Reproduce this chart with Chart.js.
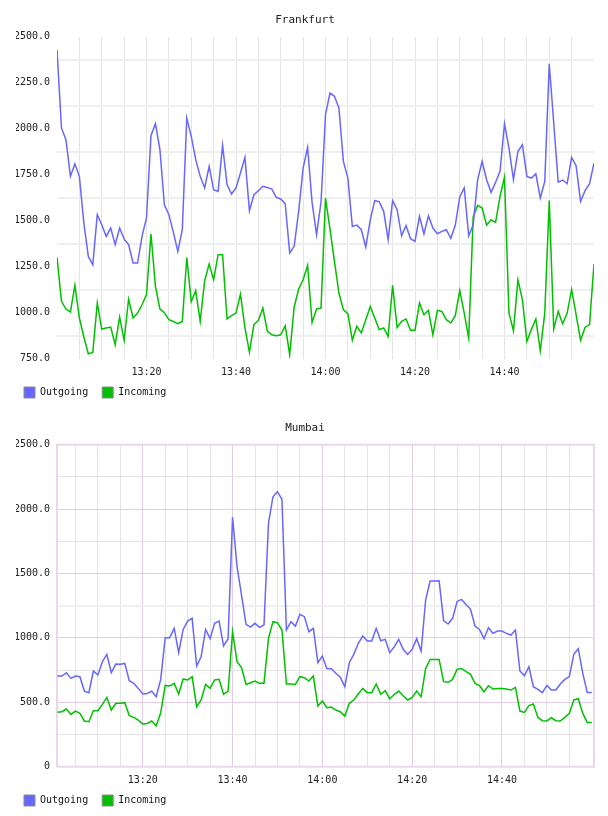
<!DOCTYPE html>
<html>
<head>
<meta charset="utf-8">
<title>Outgoing / Incoming</title>
<script src="https://cdn.jsdelivr.net/npm/chart.js@4.4.1/dist/chart.umd.min.js"></script>
<style>
  body { margin: 0; background: #fff; }
  canvas { display: block; }
</style>
</head>
<body>
<canvas id="frankfurt" width="608" height="408"></canvas>
<canvas id="mumbai" width="608" height="408"></canvas>
<script>
// helpers for HH:MM <-> minutes of the day
function toMinutes(t) {
  var p = t.split(':');
  return Number(p[0]) * 60 + Number(p[1]);
}
function fmt(m) {
  var mm = m % 60;
  return Math.floor(m / 60) + ':' + (mm < 10 ? '0' + mm : mm);
}
// one sample per minute
function timeRange(from, to) {
  var out = [];
  for (var m = toMinutes(from); m <= toMinutes(to); m++) out.push(fmt(m));
  return out;
}

// ---- data ----
const frankfurtTimes = timeRange('13:00', '15:00');
const frankfurtOutgoing = [
  2429, 2004, 1940, 1741, 1808, 1741, 1487, 1306, 1261, 1533, 1478, 1415, 1460, 1370, 1460, 1400,
  1370, 1270, 1270, 1415, 1515, 1962, 2027, 1886, 1587, 1533, 1438, 1333, 1451, 2058, 1958, 1832,
  1741, 1678, 1795, 1668, 1659, 1909, 1696, 1645, 1678, 1759, 1844, 1554, 1641, 1663, 1687, 1680,
  1672, 1627, 1618, 1592, 1324, 1361, 1551, 1786, 1899, 1600, 1424, 1600, 2076, 2194, 2176, 2112,
  1822, 1732, 1469, 1476, 1451, 1357, 1505, 1609, 1604, 1551, 1397, 1609, 1560, 1418, 1473, 1402,
  1388, 1524, 1428, 1527, 1460, 1429, 1442, 1451, 1404, 1475, 1629, 1678, 1418, 1478, 1723, 1822,
  1723, 1654, 1708, 1768, 2027, 1895, 1723, 1877, 1913, 1741, 1732, 1755, 1623, 1714, 2353, 2031,
  1710, 1721, 1701, 1844, 1799, 1605, 1663, 1701, 1813
];
const frankfurtIncoming = [
  1301, 1062, 1020, 1004, 1149, 971, 868, 777, 784, 1053, 911, 917, 922, 826, 976, 850,
  1074, 971, 998, 1043, 1098, 1428, 1143, 1020, 1000, 962, 952, 940, 952, 1300, 1060, 1120,
  953, 1174, 1264, 1179, 1315, 1315, 966, 984, 998, 1101, 917, 786, 935, 958, 1025, 900,
  880, 875, 880, 929, 772, 1031, 1129, 1179, 1257, 947, 1020, 1025, 1623, 1456, 1279, 1107,
  1016, 995, 850, 926, 890, 962, 1034, 971, 908, 917, 871, 1149, 920, 953, 966, 904,
  904, 1053, 989, 1013, 880, 1013, 1007, 962, 944, 984, 1120, 998, 862, 1520, 1583, 1569,
  1476, 1505, 1491, 1632, 1737, 998, 902, 1179, 1071, 844, 908, 966, 793, 998, 1609, 911,
  1007, 940, 998, 1125, 989, 850, 920, 935, 1264
];

const mumbaiTimes = timeRange('13:01', '15:00');
const mumbaiOutgoing = [
  704, 704, 730, 686, 704, 699, 587, 575, 743, 712, 815, 872, 730, 797, 795, 802,
  668, 647, 608, 564, 569, 587, 543, 678, 1002, 1002, 1074, 885, 1066, 1131, 1152, 782,
  854, 1066, 994, 1113, 1131, 937, 994, 1936, 1553, 1333, 1105, 1084, 1113, 1082, 1100, 1889,
  2096, 2135, 2076, 1061, 1126, 1092, 1183, 1165, 1048, 1074, 807, 859, 763, 761, 725, 694,
  621, 807, 872, 958, 1014, 976, 976, 1074, 978, 989, 885, 930, 989, 911, 872, 911,
  994, 898, 1294, 1442, 1442, 1444, 1134, 1108, 1152, 1281, 1299, 1260, 1222, 1092, 1066, 994,
  1079, 1035, 1053, 1053, 1035, 1022, 1061, 743, 707, 776, 621, 600, 575, 631, 595, 595,
  642, 678, 700, 872, 916, 725, 577, 577
];
const mumbaiIncoming = [
  422, 427, 448, 406, 432, 414, 355, 349, 435, 435, 484, 538, 440, 492, 492, 497,
  396, 383, 362, 331, 336, 355, 318, 419, 631, 626, 647, 564, 681, 673, 699, 466,
  518, 639, 608, 673, 678, 562, 587, 1048, 815, 769, 639, 652, 665, 647, 647, 996,
  1126, 1118, 1061, 642, 642, 639, 699, 691, 665, 704, 471, 510, 458, 463, 440, 427,
  393, 492, 518, 564, 608, 575, 575, 642, 562, 590, 528, 560, 587, 551, 518, 538,
  587, 543, 763, 833, 833, 833, 660, 655, 678, 756, 763, 738, 717, 647, 629, 582,
  629, 603, 608, 608, 603, 595, 616, 432, 422, 474, 487, 383, 357, 355, 380, 357,
  355, 383, 414, 518, 528, 414, 344, 344
];

const seriesNames = ['Outgoing', 'Incoming'];
const xTickLabels = ['13:20', '13:40', '14:00', '14:20', '14:40'];
const frankfurtYLabels = [750, 1000, 1250, 1500, 1750, 2000, 2250, 2500];
const mumbaiYLabels = [0, 500, 1000, 1500, 2000, 2500];

// ---- look ----
const MONO = "'DejaVu Sans Mono', monospace";
const BLUE = '#6767ff';
const GREEN = '#00c000';
const PINK = '#e4cbe4';

Chart.defaults.font.family = MONO;
Chart.defaults.color = '#222';

function points(times, values) {
  return times.map(function (t, i) { return { x: toMinutes(t), y: values[i] }; });
}

// pink frame round the plot (Mumbai only)
const frame = {
  id: 'frame',
  beforeDatasetsDraw: function (chart, args, opts) {
    if (!opts.color) return;
    const a = chart.chartArea, ctx = chart.ctx;
    ctx.save();
    ctx.strokeStyle = opts.color;
    ctx.lineWidth = 2;
    ctx.strokeRect(a.left, a.top, a.right - a.left, a.bottom - a.top);
    ctx.restore();
  }
};

function makeChart(id, cfg) {
  const xMin = toMinutes(cfg.xFrom) + cfg.xPad[0];
  const xMax = toMinutes(cfg.xTo) + cfg.xPad[1];
  return new Chart(document.getElementById(id), {
    type: 'line',
    data: {
      datasets: [
        // trailing space widens the gap between the two legend items
        { label: seriesNames[0] + ' ', data: points(cfg.times, cfg.outgoing), borderColor: BLUE, backgroundColor: BLUE },
        { label: seriesNames[1], data: points(cfg.times, cfg.incoming), borderColor: GREEN, backgroundColor: GREEN }
      ]
    },
    options: {
      responsive: false,
      animation: false,
      events: [],
      elements: {
        line: { borderWidth: 1.5, tension: 0, fill: false },
        point: { radius: 0 }
      },
      layout: { padding: { left: 16, right: 14, top: 0, bottom: 0 } },
      scales: {
        x: {
          type: 'linear',
          min: xMin,
          max: xMax,
          border: { display: false },
          afterBuildTicks: function (s) {
            const t = [];
            for (let v = Math.ceil(xMin / 5) * 5; v < xMax - 1; v += 5) if (v > xMin) t.push({ value: v });
            s.ticks = t;
          },
          afterFit: function (s) { s.height = 20.3; },
          grid: { drawTicks: false, lineWidth: 1, color: cfg.xGrid },
          ticks: {
            autoSkip: false, maxRotation: 0, padding: 8,
            font: { size: 10 },
            callback: function (v) { return xTickLabels.indexOf(fmt(v)) >= 0 ? fmt(v) : ''; }
          }
        },
        y: {
          min: cfg.yMin,
          max: cfg.yMax,
          border: { display: false },
          afterBuildTicks: function (s) {
            const t = [];
            for (let v = cfg.yMin; v <= cfg.yMax; v += cfg.yStep) t.push({ value: v });
            s.ticks = t;
          },
          afterFit: function (s) { s.width = 41; },
          grid: { drawTicks: false, color: cfg.yGrid, lineWidth: cfg.yGridWidth },
          ticks: {
            autoSkip: false, padding: 7,
            font: { size: 10 },
            callback: function (v) {
              if (cfg.yLabels.indexOf(v) < 0) return '';
              return v === 0 ? '0' : v.toFixed(1);
            }
          }
        }
      },
      plugins: {
        title: {
          display: true, text: cfg.title, color: '#222',
          font: { size: 11, weight: 'normal' },
          padding: { top: 14, bottom: 9.5 }
        },
        legend: {
          position: 'bottom', align: 'start',
          labels: {
            boxWidth: 11, boxHeight: 11, padding: 8,
            font: { size: 10 }, color: '#111',
            generateLabels: function (chart) {
              return Chart.defaults.plugins.legend.labels.generateLabels(chart).map(function (it) {
                it.strokeStyle = '#8a8a8a';
                it.lineWidth = 1;
                return it;
              });
            }
          }
        },
        tooltip: { enabled: false },
        frame: { color: cfg.frame }
      }
    },
    plugins: [frame]
  });
}

makeChart('frankfurt', {
  title: 'Frankfurt',
  times: frankfurtTimes, outgoing: frankfurtOutgoing, incoming: frankfurtIncoming,
  xFrom: '13:00', xTo: '15:00', xPad: [0, 0],
  yMin: 750, yMax: 2500, yStep: 125, yLabels: frankfurtYLabels,
  xGrid: '#e4e4e4',
  yGrid: function (c) { return c.tick && c.tick.value % 250 !== 0 ? '#efefef' : 'rgba(0,0,0,0)'; },
  yGridWidth: 2,
  frame: null
});

makeChart('mumbai', {
  title: 'Mumbai',
  times: mumbaiTimes, outgoing: mumbaiOutgoing, incoming: mumbaiIncoming,
  xFrom: '13:00', xTo: '15:00', xPad: [0.9, 0.5],
  yMin: 0, yMax: 2500, yStep: 250, yLabels: mumbaiYLabels,
  xGrid: function (c) { return c.tick && c.tick.value % 20 === 0 ? PINK : '#e4e4e4'; },
  yGrid: function (c) {
    const v = c.tick ? c.tick.value : 0;
    if (v === 0 || v === 2500) return 'rgba(0,0,0,0)';
    if (v % 500 === 0) return PINK;
    return v === 1250 ? '#efefef' : '#e4e4e4';
  },
  yGridWidth: function (c) { return c.tick && c.tick.value === 1250 ? 2 : 1; },
  frame: '#ead7ea'
});
</script>
</body>
</html>
